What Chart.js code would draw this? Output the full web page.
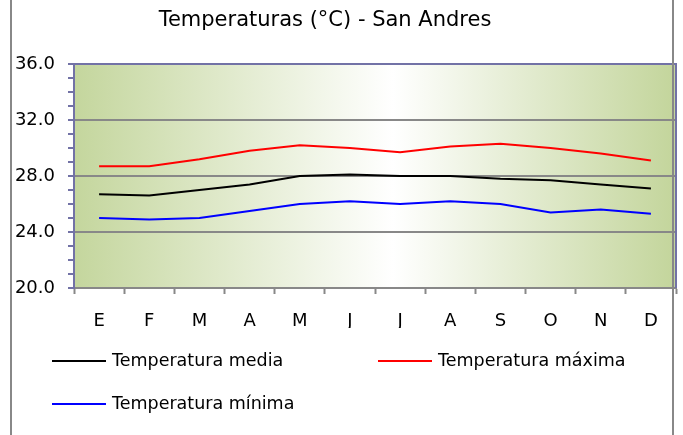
<!DOCTYPE html>
<html>
<head>
<meta charset="utf-8">
<script src="https://cdn.jsdelivr.net/npm/chart.js@4/dist/chart.umd.min.js"></script>
<style>
  body { margin: 0; background: #fff; }
  canvas { display: block; }
</style>
</head>
<body>
<canvas id="chart-temp" width="683" height="435"></canvas>
<script>
'use strict';
// meses (etiquetas del eje X)
var meses = ['E', 'F', 'M', 'A', 'M', 'J', 'J', 'A', 'S', 'O', 'N', 'D'];
var tempMedia = [26.7, 26.6, 27.0, 27.4, 28.0, 28.1, 28.0, 28.0, 27.8, 27.7, 27.4, 27.1];
var tempMaxima = [28.7, 28.7, 29.2, 29.8, 30.2, 30.0, 29.7, 30.1, 30.3, 30.0, 29.6, 29.1];
var tempMinima = [25.0, 24.9, 25.0, 25.5, 26.0, 26.2, 26.0, 26.2, 26.0, 25.4, 25.6, 25.3];
var nombres = ['Temperatura media', 'Temperatura máxima', 'Temperatura mínima'];
var titulo = 'Temperaturas (°C) - San Andres';
var ejeY = { min: 20, max: 36, paso: 1, mayor: 4 };

Chart.defaults.font.family = 'DejaVu Sans';
Chart.defaults.color = '#000';

var purple = '#7272a6';
var gray = '#888888';

// fondo degradado del area de trazado, borde y marco del grafico
var decoPlugin = {
  id: 'deco',
  beforeDraw: function(chart) {
    var ctx = chart.ctx, a = chart.chartArea;
    var g = ctx.createLinearGradient(a.left, 0, a.right, 0);
    g.addColorStop(0, '#c4d69d');
    g.addColorStop(0.53, '#ffffff');
    g.addColorStop(1, '#c3d59b');
    ctx.save();
    ctx.fillStyle = g;
    ctx.fillRect(a.left, a.top, a.right - a.left, a.bottom - a.top);
    ctx.restore();
  },
  afterDraw: function(chart) {
    var ctx = chart.ctx, a = chart.chartArea;
    ctx.save();
    // borde superior y derecho del area de trazado
    ctx.strokeStyle = purple;
    ctx.lineWidth = 2;
    ctx.beginPath();
    ctx.moveTo(a.left, a.top);
    ctx.lineTo(a.right, a.top);
    ctx.lineTo(a.right, a.bottom);
    ctx.stroke();
    // titulo
    ctx.fillStyle = '#000';
    ctx.font = '21px "DejaVu Sans"';
    ctx.textAlign = 'center';
    ctx.textBaseline = 'middle';
    ctx.fillText(titulo, 325, 21);
    // leyenda
    var cols = [52, 378], rows = [361, 404];
    ctx.font = '17.5px "DejaVu Sans"';
    ctx.textAlign = 'left';
    chart.data.datasets.forEach(function(ds, i) {
      var x = cols[i % 2], y = rows[Math.floor(i / 2)];
      ctx.strokeStyle = ds.borderColor;
      ctx.lineWidth = 2;
      ctx.beginPath();
      ctx.moveTo(x, y);
      ctx.lineTo(x + 54, y);
      ctx.stroke();
      ctx.fillText(ds.label, x + 60, y);
    });
    // marco del grafico
    ctx.strokeStyle = gray;
    ctx.lineWidth = 2;
    ctx.beginPath();
    ctx.moveTo(11, 0); ctx.lineTo(11, 435);
    ctx.moveTo(673, 0); ctx.lineTo(673, 435);
    ctx.stroke();
    ctx.restore();
  }
};

var ctx = document.getElementById('chart-temp').getContext('2d');
var tempChart = new Chart(ctx, {
  type: 'line',
  data: {
    labels: meses,
    datasets: [
      { label: nombres[0], data: tempMedia, borderColor: '#000000', backgroundColor: '#000000' },
      { label: nombres[1], data: tempMaxima, borderColor: '#ff0000', backgroundColor: '#ff0000' },
      { label: nombres[2], data: tempMinima, borderColor: '#0000ff', backgroundColor: '#0000ff' }
    ]
  },
  options: {
    responsive: false,
    devicePixelRatio: 1,
    animation: false,
    layout: { padding: { top: 64, right: 7, bottom: 107, left: 0 } },
    elements: {
      line: { borderWidth: 2, tension: 0 },
      point: { radius: 0, hoverRadius: 0 }
    },
    plugins: {
      legend: { display: false },
      title: { display: false },
      tooltip: { enabled: false }
    },
    scales: {
      x: {
        offset: true,
        grid: { offset: true, drawOnChartArea: false, drawTicks: true, tickLength: 6, tickColor: gray, tickWidth: 2 },
        border: { color: gray, width: 2 },
        ticks: { font: { size: 18 }, padding: 17, maxRotation: 0, autoSkip: false },
        afterFit: function(scale) { scale.height = 40; }
      },
      y: {
        min: ejeY.min,
        max: ejeY.max,
        grid: {
          color: function(c) { return c.tick && c.tick.value % ejeY.mayor === 0 ? gray : 'rgba(0,0,0,0)'; },
          lineWidth: 2,
          drawTicks: true,
          tickLength: 6,
          tickColor: purple,
          tickWidth: 2
        },
        border: { color: purple, width: 2 },
        ticks: {
          stepSize: ejeY.paso,
          autoSkip: false,
          padding: 13,
          font: { size: 18 },
          callback: function(v) { return v % ejeY.mayor === 0 ? v.toFixed(1) : ''; }
        },
        afterFit: function(scale) { scale.width = 74; }
      }
    }
  },
  plugins: [decoPlugin]
});
</script>
</body>
</html>
